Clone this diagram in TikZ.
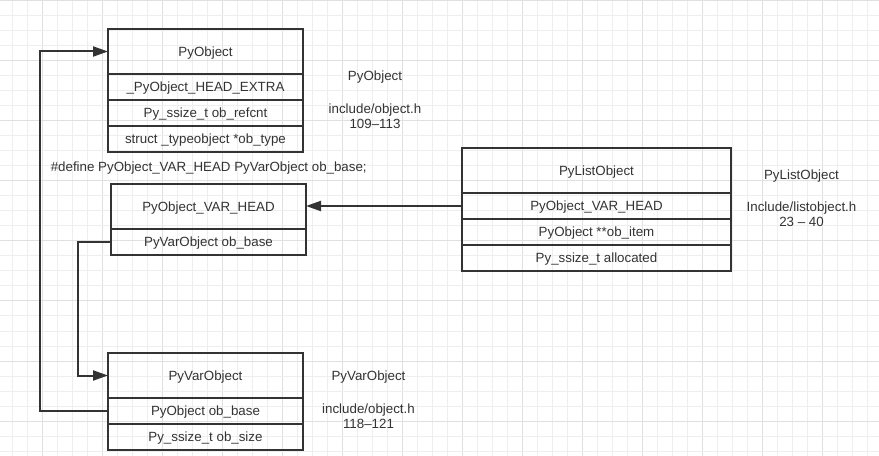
\documentclass[tikz,border=0pt]{standalone}
\usepackage{fontspec}
\setmainfont{Liberation Sans}
\usetikzlibrary{arrows.meta}

\definecolor{ink}{HTML}{333333}
\definecolor{gridminor}{HTML}{EEEEEE}
\definecolor{gridmajor}{HTML}{E0E0E0}

\newdimen\pxu
\pxu=0.75pt

\begin{document}
\begin{tikzpicture}[
    x=0.75pt, y=-0.75pt,
    every node/.style={font=\fontsize{10}{12}\selectfont, text=ink},
    cell/.style={draw=ink, line width=1.5pt, rectangle, inner sep=0pt, outer sep=0pt,
                 text height=0.8em, text depth=0.1em},
    head/.style={cell, minimum height=45*\pxu},
    row/.style={cell, minimum height=26*\pxu},
    note/.style={inner sep=0pt, text height=0.8em, text depth=0.1em},
    conn/.style={draw=ink, line width=1.5pt,
                 -{Triangle[length=11.25pt, width=7.5pt]}},
    link/.style={draw=ink, line width=1.5pt},
  ]
  \useasboundingbox (0,0) rectangle (879,456);
  \fill[white] (0,0) rectangle (879,456);

  % background grid: minor lines every 15 units, major every 60
  \foreach \k in {0,...,57} {
    \pgfmathtruncatemacro{\gx}{12+15*\k}
    \pgfmathtruncatemacro{\mj}{mod(\k,4)==2}
    \ifnum\mj=1
      \draw[gridmajor, line width=0.75pt] (\gx,0) -- (\gx,456);
    \else
      \draw[gridminor, line width=0.75pt] (\gx,0) -- (\gx,456);
    \fi
  }
  \foreach \k in {0,...,30} {
    \pgfmathtruncatemacro{\gy}{1+15*\k}
    \pgfmathtruncatemacro{\mj}{mod(\k,4)==0}
    \ifnum\mj=1
      \draw[gridmajor, line width=0.75pt] (0,\gy) -- (879,\gy);
    \else
      \draw[gridminor, line width=0.75pt] (0,\gy) -- (879,\gy);
    \fi
  }

  % PyObject
  \begin{scope}[every node/.append style={minimum width=195*\pxu}]
    \node[head] (o0) at (205.5,51.5) {PyObject};
    \node[row]  (o1) at (205.5,87)   {\_PyObject\_HEAD\_EXTRA};
    \node[row]  (o2) at (205.5,113)  {Py\_ssize\_t ob\_refcnt};
    \node[row]  (o3) at (205.5,139)  {struct \_typeobject *ob\_type};
  \end{scope}

  % PyObject_VAR_HEAD
  \begin{scope}[every node/.append style={minimum width=195*\pxu}]
    \node[head] (h0) at (208.5,206.5) {PyObject\_VAR\_HEAD};
    \node[row]  (h1) at (208.5,242)   {PyVarObject ob\_base};
  \end{scope}

  % PyVarObject
  \begin{scope}[every node/.append style={minimum width=195*\pxu}]
    \node[head] (v0) at (205.5,375.5) {PyVarObject};
    \node[row]  (v1) at (205.5,411)   {PyObject ob\_base};
    \node[row]  (v2) at (205.5,437)   {Py\_ssize\_t ob\_size};
  \end{scope}

  % PyListObject
  \begin{scope}[every node/.append style={minimum width=269*\pxu}]
    \node[head] (l0) at (596.5,170.5) {PyListObject};
    \node[row]  (l1) at (596.5,206)   {PyObject\_VAR\_HEAD};
    \node[row]  (l2) at (596.5,232)   {PyObject **ob\_item};
    \node[row]  (l3) at (596.5,258)   {Py\_ssize\_t allocated};
  \end{scope}

  % macro definition line
  \node[note, anchor=west] (def) at (50.5,167)
    {\#define PyObject\_VAR\_HEAD PyVarObject ob\_base;};

  % source references
  \node[note] (oname) at (375,76)  {PyObject};
  \node[note] (ofile) at (375,109) {include/object.h};
  \node[note] (oline) at (375,124) {109–113};

  \node[note] (lname) at (801.5,174.5) {PyListObject};
  \node[note] (lfile) at (801.5,207)   {Include/listobject.h};
  \node[note] (lline) at (801.5,222)   {23 – 40};

  \node[note] (vname) at (368.5,375.5) {PyVarObject};
  \node[note] (vfile) at (368.5,408.5) {include/object.h};
  \node[note] (vline) at (368.5,424)   {118–121};

  % connectors
  \draw[conn] (v1.west) -- ++(-68,0) |- (o0.west);
  \draw[conn] (h1.west) -- ++(-33,0) |- (v0.west);
  \draw[conn] (l1.west) -- (l1.west -| h0.east);
\end{tikzpicture}
\end{document}
